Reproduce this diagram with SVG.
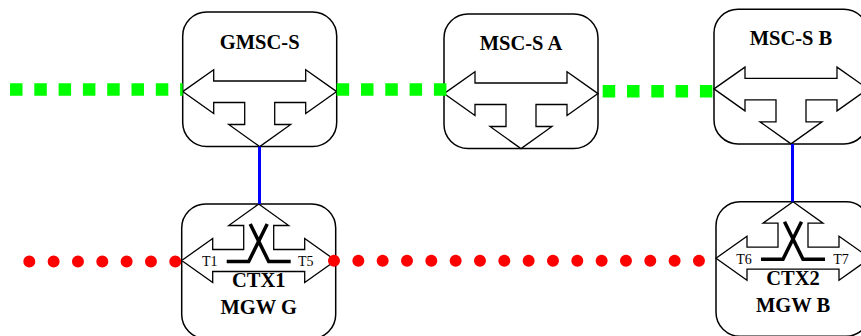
<svg xmlns="http://www.w3.org/2000/svg" xmlns:xlink="http://www.w3.org/1999/xlink" width="861" height="336" viewBox="0 0 861 336">
<style>
.box{fill:#fff;stroke:#000;stroke-width:1.5}
.arr{fill:#fff;stroke:#000;stroke-width:1.3;stroke-linejoin:miter}
.x{fill:none;stroke:#000;stroke-width:3.5}
.lbl{font-weight:bold;font-size:20.5px;text-anchor:middle;fill:#000}
.t{font-size:14px;text-anchor:middle;fill:#000}
.green{fill:none;stroke:#00ff00;stroke-width:12.4;stroke-dasharray:12.5 11.8}
.red{fill:none;stroke:#ff0000;stroke-width:12;stroke-linecap:round;stroke-dasharray:0 24.33}
.blue{fill:none;stroke:#0000ff;stroke-width:3}
</style>
<defs>
<rect id="frame" x="0" y="0" width="154" height="134.6" rx="24" ry="24"/>
<path id="topArrow" d="M0,79.6 L31,57.8 L31,69 L123,69 L123,57.8 L154,79.6 L123,101.6 L123,90.5 L92,90.5 L92,112.5 L108,112.5 L77,134.6 L46,112.5 L62,112.5 L62,90.5 L31,90.5 L31,101.6 Z"/>
<path id="botArrow" d="M0,56.5 L31,34.5 L31,45.5 L62,45.5 L62,21.5 L47,21.5 L77,0 L107,21.5 L92,21.5 L92,45.5 L123,45.5 L123,34.5 L154,56.5 L123,78.5 L123,67.5 L31,67.5 L31,78.5 Z"/>
<path id="cross" d="M45,57.5 L67,57.5 L85.5,20 M109,57.5 L87,57.5 L68.5,20"/>
</defs>
<g font-family="'Liberation Serif', 'DejaVu Serif', serif">
<g id="GMSC-S" transform="translate(182.7,12)">
<use xlink:href="#frame" class="box"/>
<use xlink:href="#topArrow" class="arr"/>
<text class="lbl" x="77" y="37">GMSC-S</text>
</g>
<g id="MSC-S_A" transform="translate(444,14)">
<use xlink:href="#frame" class="box"/>
<use xlink:href="#topArrow" class="arr"/>
<text class="lbl" x="77" y="36">MSC-S A</text>
</g>
<g id="MSC-S_B" transform="translate(714,9.3)">
<use xlink:href="#frame" class="box"/>
<use xlink:href="#topArrow" class="arr"/>
<text class="lbl" x="77" y="36">MSC-S B</text>
</g>
<g id="MGW_G" transform="translate(181.7,204)">
<use xlink:href="#frame" class="box"/>
<use xlink:href="#botArrow" class="arr"/>
<use xlink:href="#cross" class="x"/>
<text class="t" x="28" y="62">T1</text>
<text class="t" x="124" y="62">T5</text>
<text class="lbl" x="77" y="83">CTX1</text>
<text class="lbl" x="77" y="110">MGW G</text>
</g>
<g id="MGW_B" transform="translate(716,201.7)">
<use xlink:href="#frame" class="box"/>
<use xlink:href="#botArrow" class="arr"/>
<use xlink:href="#cross" class="x"/>
<text class="t" x="28" y="62.5">T6</text>
<text class="t" x="125" y="62.5">T7</text>
<text class="lbl" x="77" y="83">CTX2</text>
<text class="lbl" x="77" y="110">MGW B</text>
</g>
</g>
<g id="connectors">
<line class="green" x1="10" y1="89.5" x2="182.7" y2="89.5"/>
<line class="green" x1="336.7" y1="89.5" x2="446.7" y2="89.5"/>
<line class="green" x1="602.7" y1="91.3" x2="714" y2="91.3"/>
<line class="red" x1="29.3" y1="261.5" x2="182" y2="261.5"/>
<line class="red" x1="334" y1="260.8" x2="716" y2="260.8"/>
<line class="blue" x1="259.5" y1="146.6" x2="259.5" y2="204"/>
<line class="blue" x1="792.5" y1="144" x2="792.5" y2="201.7"/>
</g>
</svg>
